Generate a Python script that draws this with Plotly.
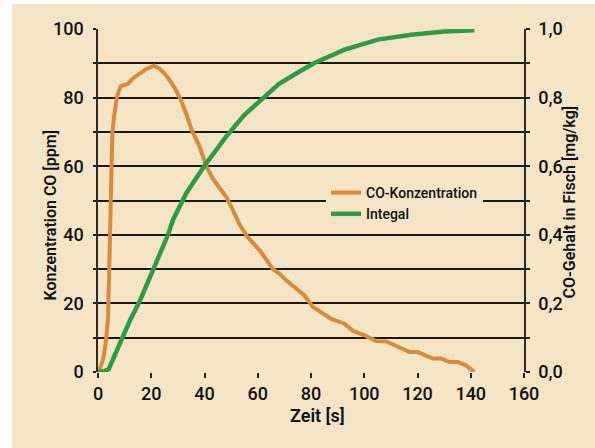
import plotly.graph_objects as go

# ---- data ----
t_co = [0, 1, 2, 3, 3.8, 4.2, 4.5, 4.9, 5.4, 6.3, 7.2, 8.5, 10, 11.3, 13, 15.5, 18, 21,
        23, 25, 27, 29, 31, 33, 35.5, 38, 40.7, 43, 45.5, 48.2, 50.5, 53.2, 56, 58.5,
        60.7, 63, 65.7, 68, 71, 73.8, 77.6, 80.7, 83.9, 87.6, 92.6, 95.7, 100.1, 104.5,
        108.3, 112.6, 117, 120.1, 125.8, 128.9, 132, 135.1, 138.3, 141.4]
co_ppm = [0, 1.5, 4, 9, 16, 30, 45, 60, 70, 76, 80.5, 83.3, 83.8, 84, 85.5, 87, 88.3, 89.3,
          88.5, 87, 85, 82.5, 79.5, 75.5, 70, 66, 60, 56.5, 54, 51, 47.5, 43, 39.5, 37.5,
          35.5, 33, 30, 28.8, 26.5, 24.8, 22.3, 19, 17.5, 15.5, 14.1, 12, 10.7, 9,
          8.9, 7.3, 5.8, 5.8, 3.9, 3.9, 2.9, 2.9, 1.9, 0]

t_int = [0, 2, 4, 6, 8.8, 12, 15.7, 20.6, 26.3, 28.2, 33.2, 40.7, 48.2, 55, 61.9, 68,
         75.7, 81.3, 92.6, 105.1, 117.6, 130.1, 141.4]
integral = [0, 0.002, 0.008, 0.045, 0.097, 0.15, 0.207, 0.297, 0.40, 0.444, 0.522, 0.609,
            0.687, 0.75, 0.799, 0.84, 0.876, 0.901, 0.94, 0.969, 0.983, 0.993, 0.996]

x_ticks = [0, 20, 40, 60, 80, 100, 120, 140, 160]
y_ticks = list(range(0, 101, 10))
y_labels = [str(v) if v % 20 == 0 else "" for v in y_ticks]
y2_ticks = [i / 10 for i in range(11)]
y2_labels = [f"{v:.1f}".replace(".", ",") if i % 2 == 0 else "" for i, v in enumerate(y2_ticks)]

names = ["CO-Konzentration", "Integal"]
colors = ["#d98a3a", "#2e9c47"]

# ---- figure ----
W, H = 595, 448
L, R, T, B = 98, 71, 29, 76
pw, ph = W - L - R, H - T - B

def px(x):
    return (x - L) / pw

def py(y):
    return (H - B - y) / ph

FONT = "Roboto, 'Open Sans', sans-serif"
BEIGE = "#f5e5c6"

fig = go.Figure()
fig.add_trace(go.Scatter(x=t_co, y=co_ppm, mode="lines", name=names[0],
                         line=dict(color=colors[0], width=4), yaxis="y"))
fig.add_trace(go.Scatter(x=t_int, y=integral, mode="lines", name=names[1],
                         line=dict(color=colors[1], width=4.5), yaxis="y2"))

tickfont = dict(family=FONT, size=18, color="#111", weight=500)
titlefont = dict(family=FONT, size=16, color="#111", weight=600)

fig.update_layout(
    width=W, height=H,
    margin=dict(l=L, r=R, t=T, b=B, autoexpand=False),
    paper_bgcolor="white",
    plot_bgcolor="rgba(0,0,0,0)",
    showlegend=True,
    legend=dict(x=px(326), y=py(177), xanchor="left", yanchor="top",
                bgcolor=BEIGE, font=dict(family=FONT, size=14, color="#111", weight=500),
                tracegroupgap=0, itemwidth=30),
    xaxis=dict(range=[0, 160], tickvals=x_ticks, ticks="outside", ticklen=5,
               tickcolor="#222", tickwidth=1.5, showgrid=False, zeroline=False,
               showline=False, tickfont=tickfont, fixedrange=True),
    yaxis=dict(range=[0, 100], tickvals=y_ticks, ticktext=y_labels, ticks="outside",
               ticklen=3, tickcolor="#222", tickwidth=1.5, showgrid=True,
               gridcolor="#1a1a1a", gridwidth=1.5, zeroline=False, showline=True,
               linecolor="#2a2a2a", linewidth=1.5, tickfont=tickfont, ticklabelstandoff=6),
    yaxis2=dict(range=[0, 1], tickvals=y2_ticks, ticktext=y2_labels, overlaying="y",
                side="right", ticks="outside", ticklen=4, tickcolor="#222", tickwidth=1.5,
                showgrid=False, zeroline=False, showline=True, linecolor="#2a2a2a",
                linewidth=1.5, tickfont=tickfont, ticklabelstandoff=5),
    shapes=[dict(type="rect", xref="paper", yref="paper", x0=px(12), x1=px(W),
                 y0=py(H), y1=py(4), fillcolor=BEIGE, line=dict(width=0), layer="below")],
    annotations=[
        dict(text="Konzentration CO [ppm]", xref="paper", yref="paper", x=px(38), y=py(215),
             textangle=-90, showarrow=False, font=titlefont),
        dict(text="CO-Gehalt in Fisch [mg/kg]", xref="paper", yref="paper", x=px(581), y=py(202),
             textangle=-90, showarrow=False, font=titlefont),
        dict(text="Zeit [s]", xref="paper", yref="paper", x=px(317), y=py(428),
             showarrow=False, font=dict(family=FONT, size=18, color="#111", weight=600)),
    ],
)

fig.write_html("out.html", config={"displayModeBar": False},
               post_script="document.body.style.margin='0';document.body.style.padding='0';")
